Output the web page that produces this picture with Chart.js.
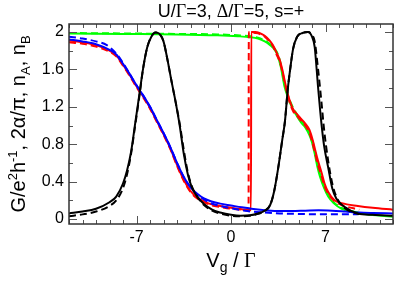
<!DOCTYPE html>
<html>
<head>
<meta charset="utf-8">
<title>U/Gamma=3 chart</title>
<style>
  body { margin: 0; background: #fff; }
  canvas { display: block; }
</style>
</head>
<body>
<canvas id="c" width="395" height="284"></canvas>
<script src="https://cdn.jsdelivr.net/npm/chart.js"></script>
<script>
// axis ticks
var xTickValues = [-7, 0, 7];
var yTickValues = [0, 0.4, 0.8, 1.2, 1.6, 2];
var xMinorValues = [-12,-11,-10,-9,-8,-6,-5,-4,-3,-2,-1,1,2,3,4,5,6,8,9,10,11,12];
var yMinorValues = [0.2, 0.6, 1.0, 1.4, 1.8];

// black (G) curves
var blackSolidX = [-12,-11,-10,-9,-8.5,-8,-7.7,-7.4,-7.1,-6.8,-6.5,-6.2,-5.9,-5.6,-5.3,-5.0,-4.7,-4.4,-4.1,-3.8,-3.5,-3.2,-2.9,-2.5,-2.0,-1.4,-0.8,0,0.7,1.4,2.0,2.5,2.9,3.2,3.5,3.8,4.0,4.2,4.4,4.6,4.9,5.3,5.7,6.0,6.2,6.45,6.7,6.9,7.2,7.5,7.8,8.4,9.4,10.5,12];
var blackSolidY = [0.06,0.08,0.11,0.18,0.24,0.38,0.52,0.72,1.02,1.32,1.62,1.84,1.95,1.995,1.98,1.9,1.7,1.47,1.25,1.0,0.7,0.48,0.34,0.24,0.16,0.1,0.07,0.045,0.035,0.04,0.06,0.09,0.15,0.3,0.55,0.85,1.05,1.38,1.62,1.82,1.95,1.99,2.0,1.95,1.84,1.41,1.02,0.78,0.55,0.33,0.22,0.13,0.06,0.045,0.035];
var blackDashX = [-12,-11,-10,-9,-8.5,-8,-7.7,-7.4,-7.1,-6.8,-6.5,-6.2,-5.9,-5.6,-5.3,-5.0,-4.7,-4.4,-4.1,-3.8,-3.5,-3.2,-2.9,-2.5,-2.0,-1.4,-0.8,0,0.7,1.4,2.0,2.5,2.9,3.2,3.5,3.8,4.0,4.2,4.4,4.6,4.9,5.3,5.7,6.0,6.2,6.45,6.7,6.9,7.2,7.5,7.8,8.4,9.5];
var blackDashY = [0.03,0.05,0.08,0.14,0.2,0.33,0.48,0.7,1.0,1.3,1.62,1.84,1.95,1.995,1.98,1.9,1.7,1.47,1.25,1.02,0.74,0.5,0.35,0.24,0.15,0.09,0.06,0.035,0.03,0.035,0.055,0.085,0.15,0.3,0.55,0.85,1.05,1.38,1.62,1.82,1.95,1.99,2.0,1.97,1.9,1.6,1.25,0.95,0.62,0.38,0.24,0.12,0.05];

// red curves
var redSolidX = [-12,-11,-10,-9,-8.5,-8,-7.5,-7,-6.5,-6,-5.5,-5,-4.5,-4,-3.5,-3,-2.5,-2,-1.5,-0.8,0,0.8,1.48,1.5,1.8,2.1,2.5,2.85,3.1,3.34,3.59,3.8,3.96,4.2,4.58,4.9,5.2,5.5,5.82,6.06,6.25,6.43,6.7,6.93,7.2,7.67,8.2,9.4,10.5,12];
var redSolidY = [1.91,1.89,1.86,1.80,1.75,1.65,1.54,1.42,1.31,1.19,1.05,0.91,0.76,0.58,0.42,0.30,0.23,0.19,0.16,0.14,0.12,0.105,0.095,2.0,2.0,1.99,1.96,1.91,1.86,1.79,1.71,1.6,1.49,1.34,1.18,1.12,1.07,1.02,0.95,0.84,0.73,0.63,0.5,0.38,0.29,0.2,0.17,0.14,0.12,0.10];
var redDashX = [-12,-11,-10,-9,-8.5,-8,-7.5,-7,-6.5,-6,-5.5,-5,-4.5,-4,-3.5,-3,-2.5,-2,-1.5,-0.8,0,0.8,1.3,1.32,1.8,2.1,2.5,2.85,3.1,3.34,3.59,3.8,3.96,4.2,4.58,4.9,5.2,5.5,5.82,6.06,6.25,6.43,6.7,6.93,7.2,7.67,8.2,9.5];
var redDashY = [1.89,1.875,1.845,1.79,1.74,1.64,1.53,1.41,1.30,1.18,1.04,0.9,0.75,0.57,0.41,0.29,0.22,0.18,0.15,0.13,0.11,0.1,0.09,2.0,1.99,1.98,1.95,1.90,1.85,1.77,1.69,1.58,1.47,1.32,1.16,1.1,1.05,1.0,0.92,0.8,0.69,0.58,0.46,0.35,0.27,0.19,0.15,0.1];

// blue curves
var blueSolidX = [-12,-11,-10,-9,-8.5,-8,-7.5,-7,-6.5,-6,-5.5,-5,-4.5,-4,-3.5,-3,-2.5,-2,-1.5,-0.8,0,0.8,1.5,2.5,3.6,4.5,5.5,6.5,7.5,8.5,9.5,10.5,12];
var blueSolidY = [1.92,1.90,1.87,1.81,1.76,1.66,1.55,1.43,1.32,1.2,1.06,0.92,0.77,0.6,0.45,0.34,0.27,0.22,0.19,0.165,0.145,0.125,0.11,0.095,0.085,0.085,0.09,0.095,0.09,0.08,0.07,0.065,0.06];
var blueDashX = [-12,-11,-10,-9.2,-8.5,-8,-7.5,-7,-6.5,-6,-5.5,-5,-4.5,-4,-3.5,-3,-2.5,-2,-1.5,-0.8,0,0.8,1.5,2.5,3.6,5,6.5,8,9.4];
var blueDashY = [1.95,1.93,1.90,1.86,1.77,1.67,1.55,1.43,1.32,1.2,1.06,0.92,0.77,0.6,0.45,0.34,0.26,0.21,0.17,0.14,0.115,0.095,0.08,0.07,0.06,0.055,0.05,0.05,0.05];

// green curves
var greenSolidX = [-12,-8,-4,-1,0.5,1.4,2.0,2.5,2.9,3.2,3.45,3.7,3.96,4.2,4.5,4.8,5.2,5.5,5.8,6.0,6.2,6.4,6.6,6.9,7.2,7.6,8.2,9,9.7,10.8,12];
var greenSolidY = [1.985,1.98,1.975,1.965,1.955,1.945,1.93,1.9,1.86,1.82,1.75,1.62,1.42,1.31,1.2,1.12,1.03,0.98,0.9,0.82,0.7,0.56,0.45,0.33,0.24,0.17,0.11,0.08,0.06,0.04,0.025];
var greenDashX = [-12,-8,-4,-1,0.5,1.4,2.0,2.5,2.9,3.2,3.45,3.7,3.96,4.2,4.5,4.8,5.2,5.5,5.8,6.0,6.2,6.4,6.6,6.9,7.2,7.6,8.2,9,9.5];
var greenDashY = [1.99,1.985,1.98,1.975,1.965,1.955,1.94,1.91,1.87,1.83,1.77,1.65,1.45,1.33,1.22,1.14,1.05,1.0,0.93,0.85,0.74,0.6,0.48,0.35,0.26,0.18,0.12,0.08,0.065];

function pts(xs, ys) {
    var out = [];
    for (var i = 0; i < xs.length; i++) out.push({ x: xs[i], y: ys[i] });
    return out;
}

function line(xs, ys, color, dashed, order) {
    return {
        data: pts(xs, ys),
        borderColor: color,
        borderWidth: 2,
        borderDash: dashed ? [7, 4] : [],
        pointRadius: 0,
        cubicInterpolationMode: 'monotone',
        fill: false,
        order: order
    };
}

var SANS = '"Liberation Sans", Arial, sans-serif';
var SERIF = '"Liberation Serif", "Times New Roman", serif';

function drawRich(ctx, parts, cx, baseline) {
    var w = 0;
    parts.forEach(function (p) { ctx.font = p.f; w += ctx.measureText(p.t).width; });
    var x = cx - w / 2;
    parts.forEach(function (p) {
        ctx.font = p.f;
        ctx.fillText(p.t, x, baseline + (p.dy || 0));
        x += ctx.measureText(p.t).width;
    });
}

var decor = {
    id: 'decor',
    afterDatasetsDraw: function (chart) {
        var ctx = chart.ctx, a = chart.chartArea;
        var xs = chart.scales.x, ys = chart.scales.y;
        ctx.save();
        ctx.strokeStyle = '#555';
        ctx.lineWidth = 1;
        ctx.beginPath();
        function xt(v, len) {
            var p = Math.round(xs.getPixelForValue(v)) + 0.5;
            ctx.moveTo(p, a.bottom); ctx.lineTo(p, a.bottom - len);
            ctx.moveTo(p, a.top); ctx.lineTo(p, a.top + len);
        }
        function yt(v, len) {
            var p = Math.round(ys.getPixelForValue(v)) + 0.5;
            ctx.moveTo(a.left, p); ctx.lineTo(a.left + len, p);
            ctx.moveTo(a.right, p); ctx.lineTo(a.right - len, p);
        }
        xTickValues.forEach(function (v) { xt(v, 8); });
        xMinorValues.forEach(function (v) { xt(v, 4); });
        yTickValues.forEach(function (v) { yt(v, 8); });
        yMinorValues.forEach(function (v) { yt(v, 4); });
        ctx.stroke();
        ctx.strokeStyle = '#333';
        ctx.lineWidth = 1.5;
        ctx.strokeRect(a.left, a.top, a.right - a.left, a.bottom - a.top);
        ctx.restore();
    },
    afterDraw: function (chart) {
        var ctx = chart.ctx, a = chart.chartArea;
        var cx = (a.left + a.right) / 2;
        ctx.save();
        ctx.fillStyle = '#000';
        ctx.textBaseline = 'alphabetic';
        ctx.textAlign = 'left';
        // title
        var f18 = '18px ' + SANS, s18 = '18px ' + SERIF;
        drawRich(ctx, [
            { t: 'U/', f: f18 }, { t: 'Γ', f: s18 }, { t: '=3, ', f: f18 },
            { t: 'Δ', f: s18 }, { t: '/', f: f18 }, { t: 'Γ', f: s18 }, { t: '=5, s=+', f: f18 }
        ], cx, 17);
        // x axis label
        drawRich(ctx, [
            { t: 'V', f: '20px ' + SANS }, { t: 'g', f: '14px ' + SANS, dy: 5 },
            { t: ' / ', f: '20px ' + SANS }, { t: 'Γ', f: '20px ' + SERIF }
        ], cx, 267);
        // y axis label
        ctx.translate(25, (a.top + a.bottom) / 2);
        ctx.rotate(-Math.PI / 2);
        var f20 = '20px ' + SANS, f13 = '13px ' + SANS;
        drawRich(ctx, [
            { t: 'G/e', f: f20 }, { t: '2', f: f13, dy: -8 }, { t: 'h', f: f20 },
            { t: '-1', f: f13, dy: -8 }, { t: ', 2α/π, n', f: f20 }, { t: 'A', f: f13, dy: 5 },
            { t: ', n', f: f20 }, { t: 'B', f: f13, dy: 5 }
        ], 0, 0);
        ctx.restore();
    }
};

new Chart(document.getElementById('c'), {
    type: 'line',
    data: {
        datasets: [
            line(greenSolidX, greenSolidY, '#00ff00', false, 8),
            line(greenDashX, greenDashY, '#00ff00', true, 7),
            line(redSolidX, redSolidY, '#ff0000', false, 6),
            line(redDashX, redDashY, '#ff0000', true, 5),
            line(blueSolidX, blueSolidY, '#0000ff', false, 4),
            line(blueDashX, blueDashY, '#0000ff', true, 3),
            line(blackDashX, blackDashY, '#000000', true, 2),
            line(blackSolidX, blackSolidY, '#000000', false, 1)
        ]
    },
    options: {
        responsive: false,
        animation: false,
        layout: { padding: { left: 0, right: 2, top: 24, bottom: 0 } },
        plugins: { legend: { display: false }, tooltip: { enabled: false }, title: { display: false } },
        scales: {
            x: {
                type: 'linear',
                min: -12,
                max: 12,
                grid: { display: false, drawTicks: false },
                border: { display: false },
                afterBuildTicks: function (s) { s.ticks = xTickValues.map(function (v) { return { value: v }; }); },
                afterFit: function (s) { s.height = 60; },
                ticks: {
                    padding: 4,
                    color: '#000',
                    font: { family: SANS, size: 16 },
                    callback: function (v) { return String(v); }
                }
            },
            y: {
                type: 'linear',
                min: -0.053,
                max: 2.086,
                grid: { display: false, drawTicks: false },
                border: { display: false },
                afterBuildTicks: function (s) { s.ticks = yTickValues.map(function (v) { return { value: v }; }); },
                afterFit: function (s) { s.width = 69; },
                ticks: {
                    padding: 5,
                    color: '#000',
                    font: { family: SANS, size: 16 },
                    callback: function (v) { return String(v); }
                }
            }
        }
    },
    plugins: [decor]
});
</script>
</body>
</html>
